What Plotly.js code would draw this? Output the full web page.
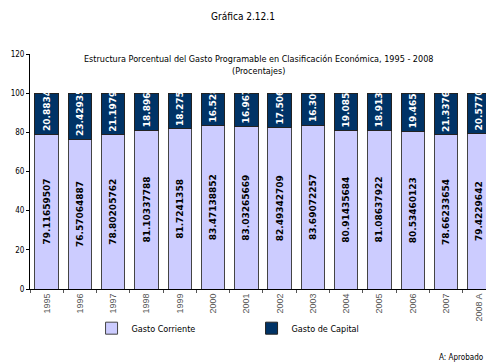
<!DOCTYPE html>
<html><head><meta charset="utf-8">
<script src="https://cdn.plot.ly/plotly-3.0.1.min.js"></script>
<style>html,body{margin:0;padding:0;background:#fff}#chart{width:486px;height:364px}
.gtitle,.annotation-text,.legendtext,.ytick text{font-stretch:condensed !important}</style>
</head><body><div id="chart"></div>
<script>
const years = ["1995","1996","1997","1998","1999","2000","2001","2002","2003","2004","2005","2006","2007","2008 A"];
const gastoCorriente = [79.11659507,76.57064887,78.80205762,81.10337788,81.7241358,83.47138852,83.03265669,82.49342709,83.69072257,80.91435684,81.08637922,80.53460123,78.66233654,79.4229642];
const gastoCapital = [20.88340493,23.42935113,21.19794238,18.89662212,18.2758642,16.52861148,16.96734331,17.50657291,16.30927743,19.08564316,18.91362078,19.46539877,21.33766346,20.5770358];
const yTicks = [0,20,40,60,80,100,120];

const narrow = '"DejaVu Sans Condensed", "DejaVu Sans", sans-serif';
const data = [
  {type:'bar', name:'Gasto Corriente', x:years, y:gastoCorriente,
   marker:{color:'#ccccff', line:{color:'#444', width:1}},
   text:gastoCorriente.map(String), textposition:'inside', insidetextanchor:'middle',
   textangle:-90, constraintext:'none',
   textfont:{family:'DejaVu Sans', size:9, color:'#000', weight:'bold'}, hoverinfo:'none'},
  {type:'bar', name:'Gasto de Capital', x:years, y:gastoCapital,
   marker:{color:'#003366', line:{color:'#222', width:1}},
   text:gastoCapital.map(String), textposition:'inside', insidetextanchor:'start',
   textangle:-90, constraintext:'none',
   textfont:{family:'DejaVu Sans', size:9, color:'#fff', weight:'bold'}, hoverinfo:'none'}
];
const layout = {
  width:486, height:364, barmode:'stack', bargap:0.3,
  paper_bgcolor:'#fff', plot_bgcolor:'#fff', showlegend:true,
  margin:{l:30, r:0, t:54, b:75},
  title:{text:'Gráfica 2.12.1', x:0.5, xanchor:'center', y:0.955, yanchor:'middle',
         font:{family:narrow, size:10, color:'#000'}},
  xaxis:{type:'category', range:[-0.5,13.2], tickangle:-90, ticks:'outside', ticklen:3,
         tickson:'boundaries', tickcolor:'#555', showline:true, linecolor:'#000', linewidth:1,
         tickfont:{family:'Arial', size:9, color:'#555'}, showgrid:false, zeroline:false},
  yaxis:{range:[0,120], tickvals:yTicks, ticks:'outside', ticklen:3, tickcolor:'#000',
         showline:true, linecolor:'#000', linewidth:1, showgrid:false, zeroline:false,
         tickfont:{family:narrow, size:8, color:'#000'}},
  legend:{orientation:'h', x:0.135, xanchor:'left', y:-0.105, yanchor:'top', traceorder:'normal',
          bgcolor:'rgba(0,0,0,0)',
          entrywidth:115, entrywidthmode:'pixels', itemwidth:30,
          font:{family:narrow, size:9, color:'#000'}},
  annotations:[
    {text:'Estructura Porcentual del Gasto Programable en Clasificación Económica, 1995 - 2008<br>(Procentajes)',
     xref:'paper', yref:'paper', x:0.5, y:1.008, xanchor:'center', yanchor:'top', showarrow:false,
     font:{family:narrow, size:9, color:'#000'}},
    {text:'A: Aprobado', xref:'paper', yref:'paper', x:1, y:-0.265, xanchor:'right', yanchor:'top',
     showarrow:false, font:{family:narrow, size:8, color:'#000'}}
  ]
};
Plotly.newPlot('chart', data, layout, {displayModeBar:false, staticPlot:true});
</script></body></html>
